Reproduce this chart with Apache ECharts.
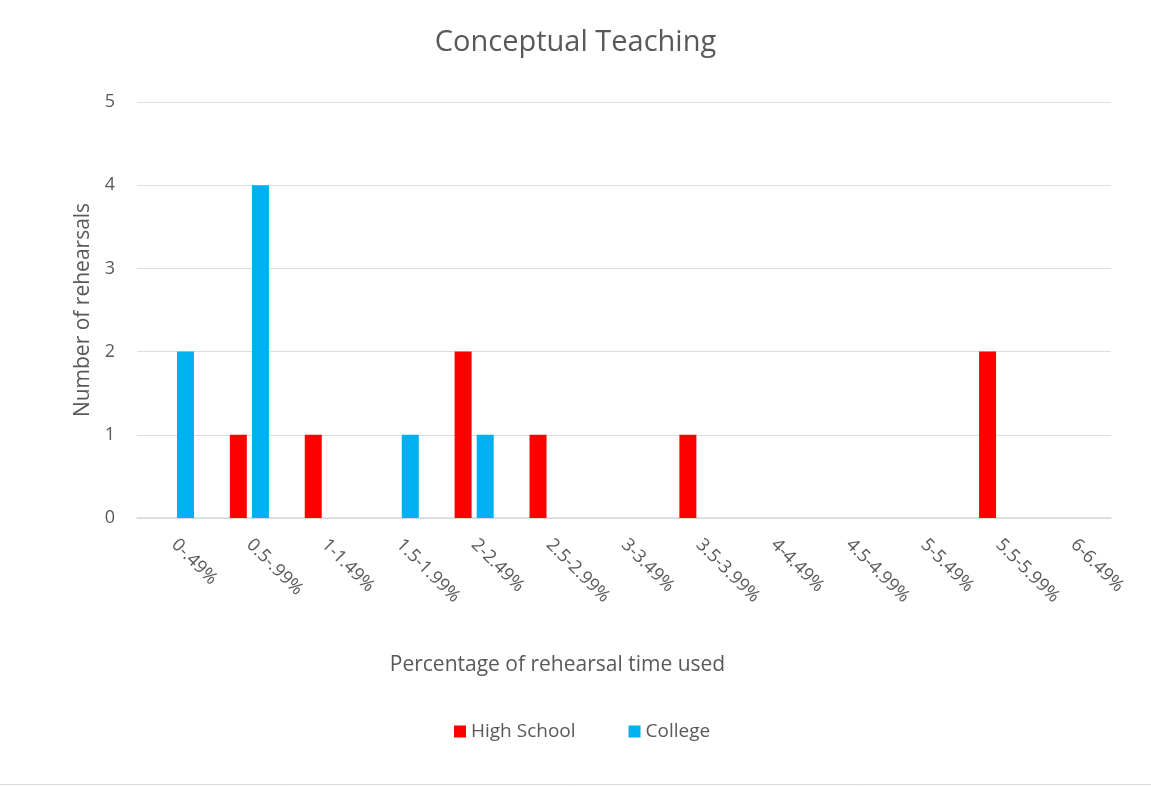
<!DOCTYPE html>
<html><head><meta charset="utf-8">
<script src="https://cdn.jsdelivr.net/npm/echarts@6/dist/echarts.min.js"></script>
<style>html,body{margin:0;padding:0;background:#fff}#c{width:1151px;height:786px}</style>
</head><body><div id="c"></div>
<script>
const categories = ["0-.49%","0.5-.99%","1-1.49%","1.5-1.99%","2-2.49%","2.5-2.99%","3-3.49%","3.5-3.99%","4-4.49%","4.5-4.99%","5-5.49%","5.5-5.99%","6-6.49%"];
const highSchool = [0,1,1,0,2,1,0,1,0,0,0,2,0];
const college    = [2,4,0,1,1,0,0,0,0,0,0,0,0];
const yTicks = [0,1,2,3,4,5];

const font = "'Open Sans', sans-serif";
const gray = '#595959';
const chart = echarts.init(document.getElementById('c'));
chart.setOption({
  animation:false,
  backgroundColor:'#fff',
  title:{text:'Conceptual Teaching',left:'center',top:23,textStyle:{fontFamily:font,fontSize:29,fontWeight:'normal',color:gray}},
  legend:{bottom:40,left:449,itemWidth:12,itemHeight:12,itemGap:53,icon:'rect',
    textStyle:{fontFamily:font,fontSize:19,color:gray},data:['High School','College']},
  grid:{left:137,right:40,top:102,bottom:268,containLabel:false},
  xAxis:{type:'category',data:categories,name:'Percentage of rehearsal time used',nameLocation:'middle',nameGap:137,
    nameTextStyle:{fontFamily:font,fontSize:21,color:gray,padding:[0,133,0,0]},
    axisLine:{lineStyle:{color:'#d9d9d9',width:1.5}},axisTick:{show:false},
    axisLabel:{rotate:-45,interval:0,fontFamily:font,fontSize:18,color:gray,margin:24}},
  yAxis:{type:'value',min:yTicks[0],max:yTicks[yTicks.length-1],interval:1,name:'Number of rehearsals',nameLocation:'middle',nameGap:40,
    nameTextStyle:{fontFamily:font,fontSize:21,color:gray},
    axisLine:{show:false},axisTick:{show:false},
    axisLabel:{fontFamily:font,fontSize:18,color:gray,margin:22}},
  series:[
    {name:'High School',type:'bar',data:highSchool,barWidth:17,barGap:'30%',itemStyle:{color:'#FF0000'}},
    {name:'College',type:'bar',data:college,barWidth:17,barGap:'30%',itemStyle:{color:'#00B0F0'}}
  ],
  graphic:[{type:'line',shape:{x1:0,y1:784.5,x2:1151,y2:784.5},style:{stroke:'#d9d9d9',lineWidth:1}}]
});
</script></body></html>
